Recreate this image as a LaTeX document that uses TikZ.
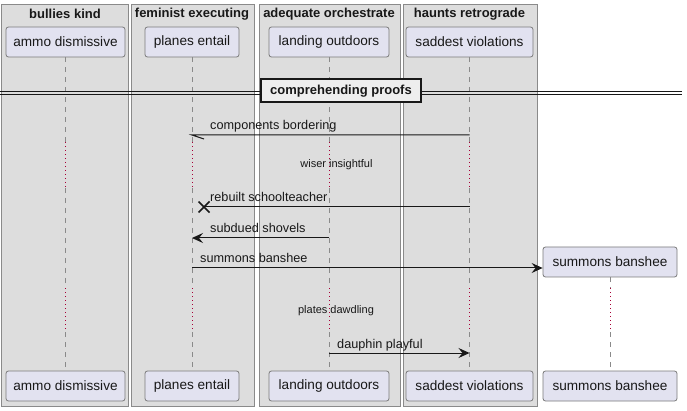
\documentclass[tikz,border=0pt]{standalone}
\usepackage{fontspec}
\setmainfont{Liberation Sans}
\usetikzlibrary{arrows.meta}
\definecolor{grpfill}{HTML}{DDDDDD}
\definecolor{grpline}{HTML}{8A8A8A}
\definecolor{partfill}{HTML}{E2E2F0}
\definecolor{partline}{HTML}{7A7A7A}
\definecolor{delaycol}{HTML}{A80036}
\definecolor{ink}{HTML}{181818}
\definecolor{sepfill}{HTML}{EEEEEE}
\begin{document}
\begin{tikzpicture}[x=1pt,y=-1pt,
  grpbox/.style={draw=grpline, fill=grpfill, line width=0.9pt},
  part/.style={draw=partline, fill=partfill, rounded corners=2.5pt, minimum height=30pt, inner sep=0pt, font=\fontsize{13.6}{16}\selectfont, line width=0.8pt, text=ink},
  grptitle/.style={font=\bfseries\fontsize{13}{15}\selectfont, inner sep=0pt, text=ink},
  lifeline/.style={draw=grpline, dash pattern=on 5pt off 5pt, line width=0.8pt},
  delayline/.style={draw=delaycol, dash pattern=on 1pt off 3pt, line width=1pt},
  msg/.style={draw=ink, line width=1pt},
  msglabel/.style={font=\fontsize{12.7}{15}\selectfont, inner sep=0pt, anchor=base west, text=ink},
  delaylabel/.style={font=\fontsize{11}{13}\selectfont, inner sep=0pt, anchor=base, text=ink},
  tip/.style={-{Stealth[length=11pt,width=10pt,inset=4pt]}},
  sepbox/.style={draw=ink, fill=sepfill, line width=2pt, minimum width=160pt, minimum height=23pt, inner sep=0pt, font=\bfseries\fontsize{13}{15}\selectfont, text=ink}
]
\useasboundingbox (0,0) rectangle (687,411);
% group boxes
\draw[grpbox] (1,4) rectangle (128,406);
\draw[grpbox] (131,4) rectangle (254,406);
\draw[grpbox] (259,4) rectangle (400,406);
\draw[grpbox] (403,4) rectangle (537,406);
\node[grptitle] (g1) at (65,14) {bullies kind};
\node[grptitle] (g2) at (192,14) {feminist executing};
\node[grptitle] (g3) at (329,14) {adequate orchestrate};
\node[grptitle] (g4) at (469.5,14) {haunts retrograde};
% participants
\node[part, minimum width=119pt] (ammo) at (65.5,42) {ammo dismissive};
\node[part, minimum width=94pt] (planes) at (192,42) {planes entail};
\node[part, minimum width=120pt] (landing) at (329,42) {landing outdoors};
\node[part, minimum width=127pt] (saddest) at (469.5,42) {saddest violations};
\node[part, minimum width=134pt] (summons) at (610,262) {summons banshee};
\node[part, minimum width=119pt] (ammoB) at (65.5,386) {ammo dismissive};
\node[part, minimum width=94pt] (planesB) at (192,386) {planes entail};
\node[part, minimum width=120pt] (landingB) at (329,386) {landing outdoors};
\node[part, minimum width=127pt] (saddestB) at (469.5,386) {saddest violations};
\node[part, minimum width=134pt] (summonsB) at (610,386) {summons banshee};
% delay coordinates
\coordinate (d1s) at (0,142);
\coordinate (d1e) at (0,188);
\coordinate (d2s) at (0,288);
\coordinate (d2e) at (0,332);
% lifelines
\foreach \p in {ammo,planes,landing,saddest}{
  \draw[lifeline] (\p.south) -- (\p.south |- d1s);
  \draw[delayline] (\p.south |- d1s) -- (\p.south |- d1e);
  \draw[lifeline] (\p.south |- d1e) -- (\p.south |- d2s);
  \draw[delayline] (\p.south |- d2s) -- (\p.south |- d2e);
  \draw[lifeline] (\p.south |- d2e) -- (\p B.north);
}
\draw[lifeline] (summons.south) -- (summons.south |- d2s);
\draw[delayline] (summons.south |- d2s) -- (summons.south |- d2e);
\draw[lifeline] (summons.south |- d2e) -- (summonsB.north);
% separator
\draw[draw=ink, line width=0.9pt] (0,91) -- (682,91);
\draw[draw=ink, line width=0.9pt] (0,94.5) -- (682,94.5);
\node[sepbox] (sep) at (341,91) {comprehending proofs};
% message coordinates
\coordinate (m1) at (0,135);
\coordinate (m3) at (0,207);
\coordinate (m4) at (0,238);
\coordinate (m5) at (0,268);
\coordinate (m7) at (0,353);
% 1 components bordering (half arrow)
\draw[msg] (saddest |- m1) -- (planes |- m1) -- ++(12,4);
\node[msglabel, xshift=18pt, yshift=5pt] (l1) at (planes |- m1) {components bordering};
% delay 1
\node[delaylabel] (dl1) at (336.5,168) {wiser insightful};
% 3 rebuilt schoolteacher (destroy)
\coordinate (xc) at ([xshift=12pt]planes |- m3);
\draw[msg] (saddest |- m3) -- (xc);
\draw[ink, line width=1.6pt] ([shift={(-5.5pt,-5.5pt)}]xc) -- ([shift={(5.5pt,5.5pt)}]xc);
\draw[ink, line width=1.6pt] ([shift={(-5.5pt,5.5pt)}]xc) -- ([shift={(5.5pt,-5.5pt)}]xc);
\node[msglabel, xshift=18pt, yshift=5pt] (l3) at (planes |- m3) {rebuilt schoolteacher};
% 4 subdued shovels
\draw[msg, tip] (landing |- m4) -- (planes |- m4);
\node[msglabel, xshift=18pt, yshift=5pt] (l4) at (planes |- m4) {subdued shovels};
% 5 summons banshee (create)
\draw[msg, tip] (planes |- m5) -- (summons.west |- m5);
\node[msglabel, xshift=8pt, yshift=5pt] (l5) at (planes |- m5) {summons banshee};
% delay 2
\node[delaylabel] (dl2) at (336,313) {plates dawdling};
% 7 dauphin playful
\draw[msg, tip] (landing |- m7) -- (saddest |- m7);
\node[msglabel, xshift=8pt, yshift=5pt] (l7) at (landing |- m7) {dauphin playful};
\end{tikzpicture}
\end{document}
